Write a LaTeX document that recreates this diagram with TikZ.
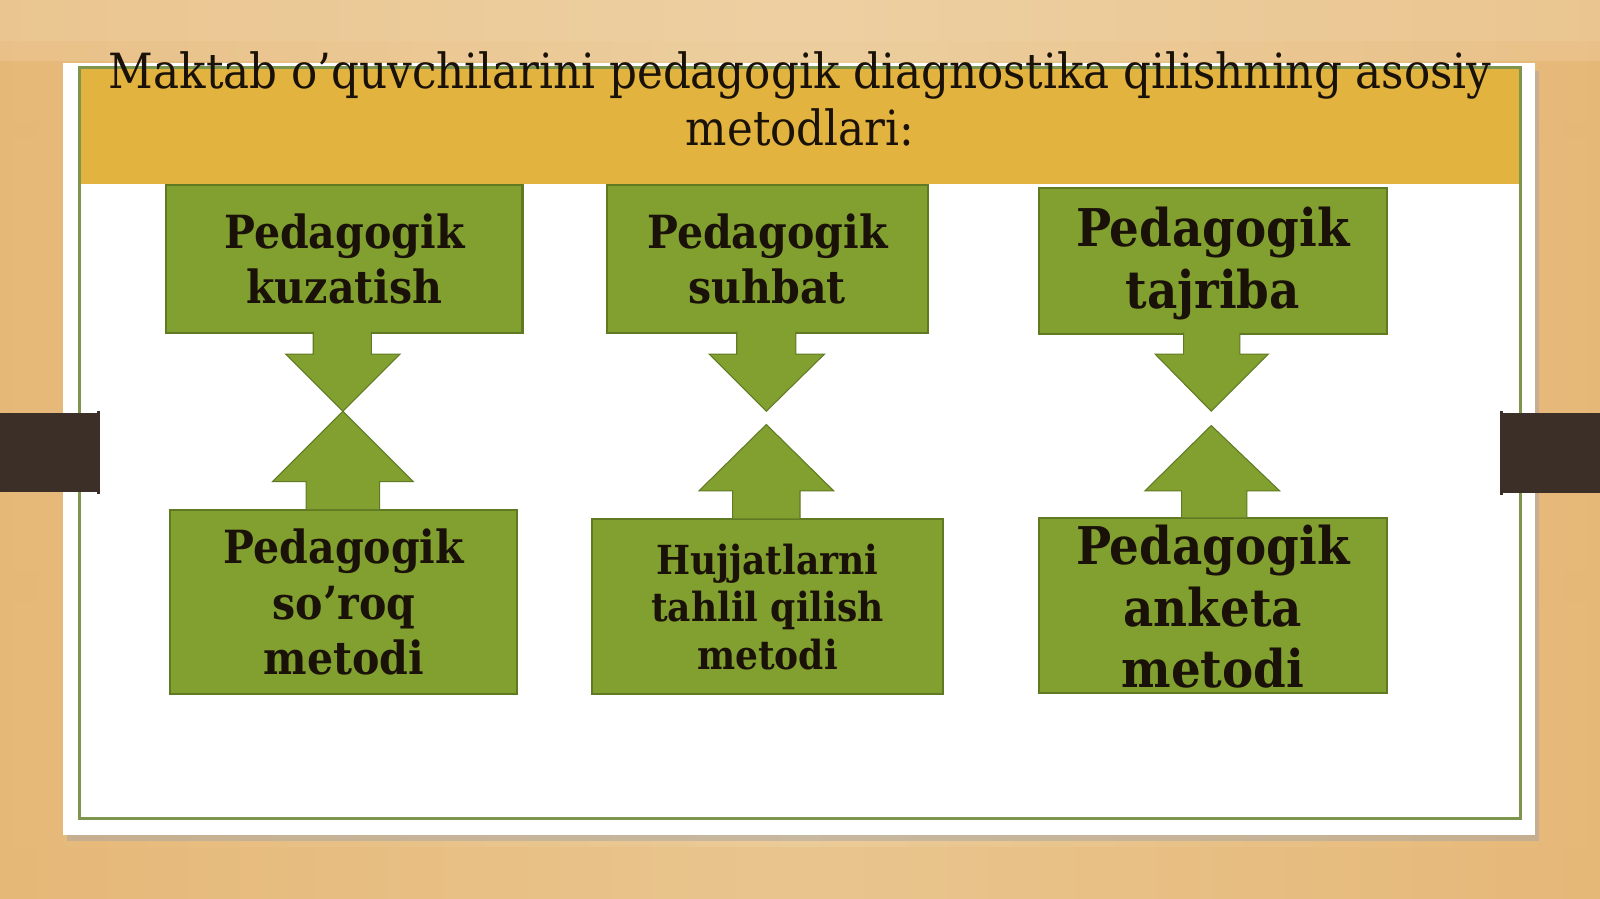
\documentclass[tikz,border=0pt]{standalone}
\usepackage{fontspec}
\setmainfont{DejaVu Serif Condensed}
\usetikzlibrary{shadows}
\definecolor{woodA}{HTML}{EBCB98}
\definecolor{woodB}{HTML}{E6B878}
\definecolor{woodC}{HTML}{F0D6AE}
\definecolor{gold}{HTML}{E2B43F}
\definecolor{olive}{HTML}{82A030}
\definecolor{oliveD}{HTML}{5F7A22}
\definecolor{tab}{HTML}{3B2F27}
\definecolor{ink}{HTML}{1A1208}
\tikzset{
  gbox/.style={fill=olive, draw=oliveD, line width=0.6pt},
  garrow/.style={fill=olive, draw=oliveD, line width=0.3pt},
  btext/.style={font=\bfseries, text=ink, align=center, inner sep=0pt},
}
\begin{document}
\begin{tikzpicture}[x=0.010204cm, y=-0.010204cm]
\useasboundingbox (0,0) rectangle (1568,881);
% wood background
\shade[left color=woodB, right color=woodB, middle color=woodA] (0,0) rectangle (1568,881);
\fill[woodC, opacity=0.45] (0,0) rectangle (1568,40);
\fill[woodC, opacity=0.3] (0,40) rectangle (1568,60);
\fill[woodB, opacity=0.25] (0,120) rectangle (1568,135);
\fill[woodB, opacity=0.2] (0,560) rectangle (1568,590);
\fill[woodB, opacity=0.3] (0,830) rectangle (1568,881);
% shadow and card
\fill[black!35, opacity=0.5] (66,70) rectangle (1508,824);
\fill[white] (62,62) rectangle (1504,818);
\fill[gold] (78,66) rectangle (1490,180);
\draw[oliveD!80, line width=0.7pt] (78,66) rectangle (1490,802);
% tabs
\fill[tab] (0,405) rectangle (95,482);
\fill[tab] (95,403) rectangle (98,484);
\fill[tab] (1473,405) rectangle (1568,483);
\fill[tab] (1470,403) rectangle (1473,485);
% title
\node[font=\fontsize{13.8}{16.2}\selectfont, text=ink, align=center, inner sep=0pt, anchor=north] (title) at (784,50)
  {Maktab o’quvchilarini pedagogik diagnostika qilishning asosiy\\metodlari:};
% top boxes
\node[gbox, minimum width=349*0.010204cm, minimum height=145*0.010204cm, anchor=north west] (b1) at (162,180) {};
\node[gbox, minimum width=314*0.010204cm, minimum height=145*0.010204cm, anchor=north west] (b2) at (594,180) {};
\node[gbox, minimum width=341*0.010204cm, minimum height=143*0.010204cm, anchor=north west] (b3) at (1017,183) {};
% bottom boxes
\node[gbox, minimum width=340*0.010204cm, minimum height=180*0.010204cm, anchor=north west] (b4) at (166,499) {};
\node[gbox, minimum width=344*0.010204cm, minimum height=171*0.010204cm, anchor=north west] (b5) at (579,508) {};
\node[gbox, minimum width=341*0.010204cm, minimum height=171*0.010204cm, anchor=north west] (b6) at (1017,507) {};
% down arrows
\draw[garrow] (307,325) -- (307,347) -- (280,347) -- (336,403) -- (392,347) -- (364,347) -- (364,325);
\draw[garrow] (722,325) -- (722,347) -- (695,347) -- (751,403) -- (808,347) -- (780,347) -- (780,325);
\draw[garrow] (1160,326) -- (1160,347) -- (1132,347) -- (1187,403) -- (1243,347) -- (1215,347) -- (1215,326);
% up arrows
\draw[garrow] (300,499) -- (300,472) -- (267,472) -- (336,403) -- (405,472) -- (372,472) -- (372,499);
\draw[garrow] (718,508) -- (718,481) -- (685,481) -- (751,416) -- (817,481) -- (784,481) -- (784,508);
\draw[garrow] (1158,507) -- (1158,481) -- (1122,481) -- (1187,417) -- (1254,481) -- (1222,481) -- (1222,507);
% texts
\node[btext, font=\bfseries\fontsize{13}{15.6}\selectfont] (t1) at (b1.center) {Pedagogik\\kuzatish};
\node[btext, font=\bfseries\fontsize{13}{15.6}\selectfont] (t2) at (b2.center) {Pedagogik\\suhbat};
\node[btext, font=\bfseries\fontsize{14.8}{17.6}\selectfont] (t3) at ([yshift=-3*0.010204cm]b3.center) {Pedagogik\\tajriba};
\node[btext, font=\bfseries\fontsize{13}{15.7}\selectfont] (t4) at (b4.center) {Pedagogik\\so’roq\\metodi};
\node[btext, font=\bfseries\fontsize{11.4}{13.5}\selectfont] (t5) at (b5.center) {Hujjatlarni\\tahlil qilish\\metodi};
\node[btext, font=\bfseries\fontsize{14.8}{17.6}\selectfont] (t6) at ([yshift=-1*0.010204cm]b6.center) {Pedagogik\\anketa\\metodi};
\end{tikzpicture}
\end{document}
